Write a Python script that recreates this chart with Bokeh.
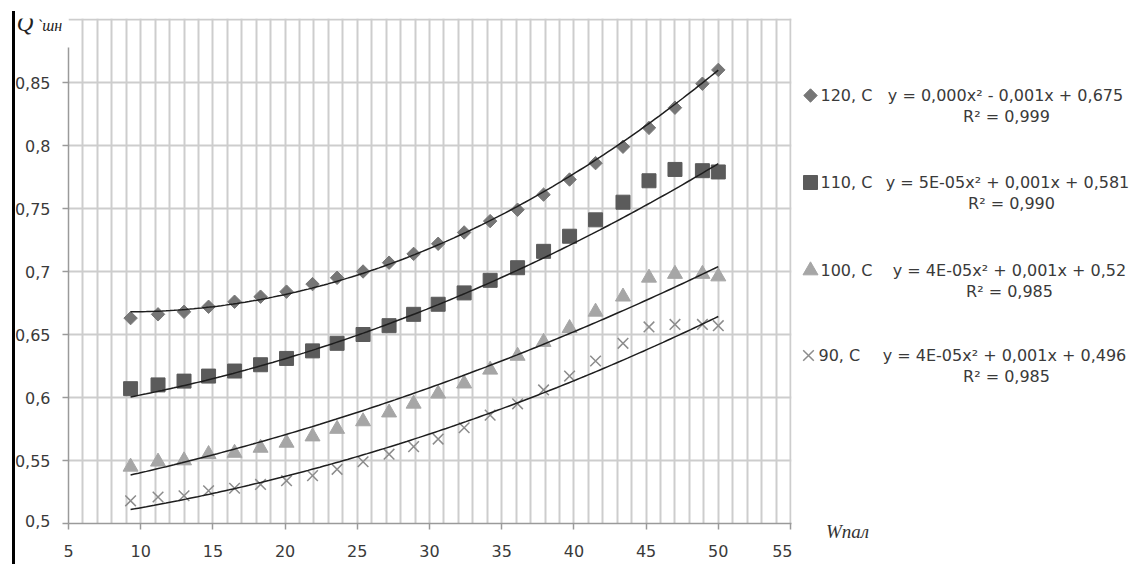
import numpy as np
from bokeh.plotting import figure
from bokeh.models import Range1d, FixedTicker, Div, Spacer, LinearAxis
from bokeh.layouts import row
from bokeh.core.properties import value
from bokeh.embed import file_html
from bokeh.resources import INLINE

# ---------------- data ----------------
w_pal = [9.3, 11.2, 13.0, 14.7, 16.5, 18.3, 20.1, 21.9, 23.6, 25.4, 27.2, 28.9,
         30.6, 32.4, 34.2, 36.1, 37.9, 39.7, 41.5, 43.4, 45.2, 47.0, 48.9, 50.0]
q_120 = [0.663, 0.666, 0.668, 0.672, 0.676, 0.680, 0.684, 0.690, 0.695, 0.700, 0.707, 0.714,
         0.722, 0.731, 0.740, 0.749, 0.761, 0.773, 0.786, 0.799, 0.814, 0.830, 0.849, 0.860]
q_110 = [0.607, 0.610, 0.613, 0.617, 0.621, 0.626, 0.631, 0.637, 0.643, 0.650, 0.657, 0.666,
         0.674, 0.683, 0.693, 0.703, 0.716, 0.728, 0.741, 0.755, 0.772, 0.781, 0.780, 0.779]
q_100 = [0.545, 0.549, 0.550, 0.555, 0.556, 0.560, 0.564, 0.569, 0.575, 0.581, 0.588, 0.595,
         0.603, 0.611, 0.622, 0.633, 0.644, 0.655, 0.668, 0.680, 0.695, 0.698, 0.698, 0.696]
q_90 = [0.518, 0.521, 0.522, 0.526, 0.528, 0.531, 0.534, 0.538, 0.543, 0.549, 0.555, 0.561,
        0.567, 0.576, 0.586, 0.595, 0.606, 0.617, 0.629, 0.643, 0.656, 0.658, 0.658, 0.657]

# trendlines (2nd-order polynomial) at a few x positions
trend_x = [9.3, 20.1, 31.3, 39.7, 50.0]
trend_120 = [0.667, 0.684, 0.725, 0.773, 0.861]
trend_110 = [0.601, 0.630, 0.677, 0.722, 0.785]
trend_100 = [0.539, 0.570, 0.612, 0.653, 0.703]
trend_90 = [0.512, 0.536, 0.575, 0.615, 0.663]

series_names = ["120, C", "110, C", "100, C", "90, C"]
equations = ["y = 0,000x² - 0,001x + 0,675",
             "y = 5E-05x² + 0,001x + 0,581",
             "y = 4E-05x² + 0,001x + 0,52",
             "y = 4E-05x² + 0,001x + 0,496"]
r_squared = ["R² = 0,999", "R² = 0,990", "R² = 0,985", "R² = 0,985"]

x_ticks = [5, 10, 15, 20, 25, 30, 35, 40, 45, 50, 55]
x_tick_labels = ["5", "10", "15", "20", "25", "30", "35", "40", "45", "50", "55"]
y_ticks = [0.5, 0.55, 0.6, 0.65, 0.7, 0.75, 0.8, 0.85]
y_tick_labels = ["0,5", "0,55", "0,6", "0,65", "0,7", "0,75", "0,8", "0,85"]
y_title = ["Q", "`шн"]
x_title = "Wпал"

# ---------------- styles / geometry ----------------
series_values = [q_120, q_110, q_100, q_90]
trend_values = [trend_120, trend_110, trend_100, trend_90]
marker_styles = [
    dict(marker="square", angle=np.pi / 4, size=9.5, fill_color="#767676", line_color="#767676"),
    dict(marker="square", size=14, fill_color="#5b5b5b", line_color="#5b5b5b"),
    dict(marker="triangle", size=15, fill_color="#a6a6a6", line_color="#a6a6a6"),
    dict(marker="x", size=15, line_color="#8c8c8c", line_width=1.5),
]
FONT = "DejaVu Sans"
SERIF = "Liberation Serif"
TXT = "#3a3a3a"
GRID = "#cdcdcd"
AXIS = "#9a9a9a"
H = 564
TOP, BOTTOM = 18, 41          # frame borders shared by all panels of the row
PX_PER_Y = 1260.0             # pixels per unit of Q
FRAME_BOTTOM = H - BOTTOM     # page y of Q = 0.5
LABEL_RIGHT = 50              # page x where y tick labels end
CHAR_W = {"0": 0.636, "5": 0.636, ",": 0.318}


def q_at(page_y):
    return 0.5 + (FRAME_BOTTOM - page_y) / PX_PER_Y


def clean(fig):
    fig.outline_line_color = None
    fig.grid.visible = False


def bare_axis(**kw):
    return LinearAxis(axis_line_color=None, major_tick_line_color=None,
                      minor_tick_line_color=None, major_tick_out=0, major_tick_in=0, **kw)


# ---------------- main plot (page x 62..792) ----------------
p = figure(width=730, height=H,
           x_range=Range1d(5, 55 + 50 / 722.0), y_range=Range1d(0.5, q_at(TOP)),
           output_backend="svg", toolbar_location=None,
           min_border_left=6, min_border_right=1, min_border_top=TOP, min_border_bottom=BOTTOM)
p.outline_line_color = None
p.xgrid.ticker = FixedTicker(ticks=list(range(5, 56)))
p.ygrid.ticker = FixedTicker(ticks=y_ticks + [0.9])
p.grid.grid_line_color = GRID
p.grid.grid_line_width = 2

p.xaxis.ticker = FixedTicker(ticks=x_ticks)
p.xaxis.major_label_overrides = dict(zip(x_ticks, x_tick_labels))
p.xaxis.major_label_text_font = FONT
p.xaxis.major_label_text_font_size = "16px"
p.xaxis.major_label_text_color = TXT
p.xaxis.major_label_standoff = 15
p.yaxis.ticker = FixedTicker(ticks=y_ticks)
p.yaxis.major_label_overrides = {t: "" for t in y_ticks}
p.yaxis.bounds = (0.5, 0.878)
p.yaxis.major_label_standoff = 0
for ax in (p.xaxis[0], p.yaxis[0]):
    ax.axis_line_color = AXIS
    ax.axis_line_width = 1.5
    ax.major_tick_line_color = AXIS
    ax.major_tick_line_width = 1.5
    ax.major_tick_out = 6
    ax.major_tick_in = 0
    ax.minor_tick_line_color = None

for vals, st in zip(series_values, marker_styles):
    p.scatter(w_pal, vals, **st)
for tv in trend_values:
    coef = np.polyfit(trend_x, tv, 2)
    xs = np.linspace(w_pal[0], w_pal[-1], 150)
    p.line(xs, np.polyval(coef, xs), line_color="#1e1e1e", line_width=1.5)

# ---------------- y tick labels + y title (page x 15..62) ----------------
yl = figure(width=47, height=H, x_range=Range1d(15, 62), y_range=p.y_range,
            output_backend="svg", toolbar_location=None,
            min_border_left=0, min_border_right=0, min_border_top=TOP, min_border_bottom=BOTTOM,
            x_axis_type=None, y_axis_type=None)
clean(yl)
lab_style = dict(major_label_text_font=FONT, major_label_text_font_size="16px",
                 major_label_text_color=TXT)
# labels inside the frame height
yl.add_layout(bare_axis(fixed_location=LABEL_RIGHT + 4, ticker=FixedTicker(ticks=y_ticks[1:]),
                        major_label_overrides=dict(zip(y_ticks[1:], y_tick_labels[1:])),
                        major_label_standoff=4, **lab_style), "left")
# the lowest label sits on the frame edge: give it through the panel below
w0 = sum(CHAR_W[c] for c in y_tick_labels[0]) * 16
x0 = LABEL_RIGHT - w0 / 2
yl.add_layout(bare_axis(ticker=FixedTicker(ticks=[x0]),
                        major_label_overrides={x0: y_tick_labels[0]},
                        major_label_standoff=-9, **lab_style), "below")
# axis title
yl.add_layout(bare_axis(fixed_location=q_at(35), ticker=FixedTicker(ticks=[22]),
                        major_label_overrides={22: y_title[0]}, major_label_standoff=0,
                        major_label_text_font=SERIF, major_label_text_font_style="italic",
                        major_label_text_font_size="23px", major_label_text_color="#222222"),
              "above")
yl.add_layout(bare_axis(fixed_location=q_at(33), ticker=FixedTicker(ticks=[49]),
                        major_label_overrides={49: y_title[1]}, major_label_standoff=0,
                        major_label_text_font=SERIF, major_label_text_font_style="italic",
                        major_label_text_font_size="16px", major_label_text_color="#222222"),
              "above")

# ---------------- legend panel (page x 792..1129, page y coordinates) ----------------
lg = figure(width=337, height=H, x_range=Range1d(792, 1129), y_range=Range1d(FRAME_BOTTOM, TOP),
            output_backend="svg", toolbar_location=None,
            min_border_left=0, min_border_right=0, min_border_top=TOP, min_border_bottom=BOTTOM,
            x_axis_type=None, y_axis_type=None)
clean(lg)

row_y = [95, 182, 270, 355]
marker_x = [810, 810, 810, 808]
eq_x = [1005, 1007, 1009, 1004]
r2_x = [1006, 1011, 1009, 1006]
for i in range(4):
    lg.scatter([marker_x[i]], [row_y[i]], **marker_styles[i])
lg.text(x=[820, 820, 820, 818], y=row_y, text=series_names, text_font=value(FONT),
        text_font_size=value("16px"), text_color=TXT, text_baseline="middle", text_align="left")
lg.text(x=eq_x, y=row_y, text=equations, text_font=value(FONT),
        text_font_size=value("16px"), text_color=TXT, text_baseline="middle", text_align="center")
lg.text(x=r2_x, y=[v + 21 for v in row_y], text=r_squared, text_font=value(FONT),
        text_font_size=value("16px"), text_color=TXT, text_baseline="middle", text_align="center")
lg.add_layout(bare_axis(ticker=FixedTicker(ticks=[847]), major_label_overrides={847: x_title},
                        major_label_standoff=-3,
                        major_label_text_font=SERIF, major_label_text_font_style="italic",
                        major_label_text_font_size="19px", major_label_text_color="#333333"),
              "below")

bar = Div(width=3, height=H - 11, margin=(11, 0, 0, 0), styles={"background-color": "#000000"})
layout = row(Spacer(width=12, height=H), bar, yl, p, lg)

open("out.html", "w").write(file_html(layout, INLINE))
